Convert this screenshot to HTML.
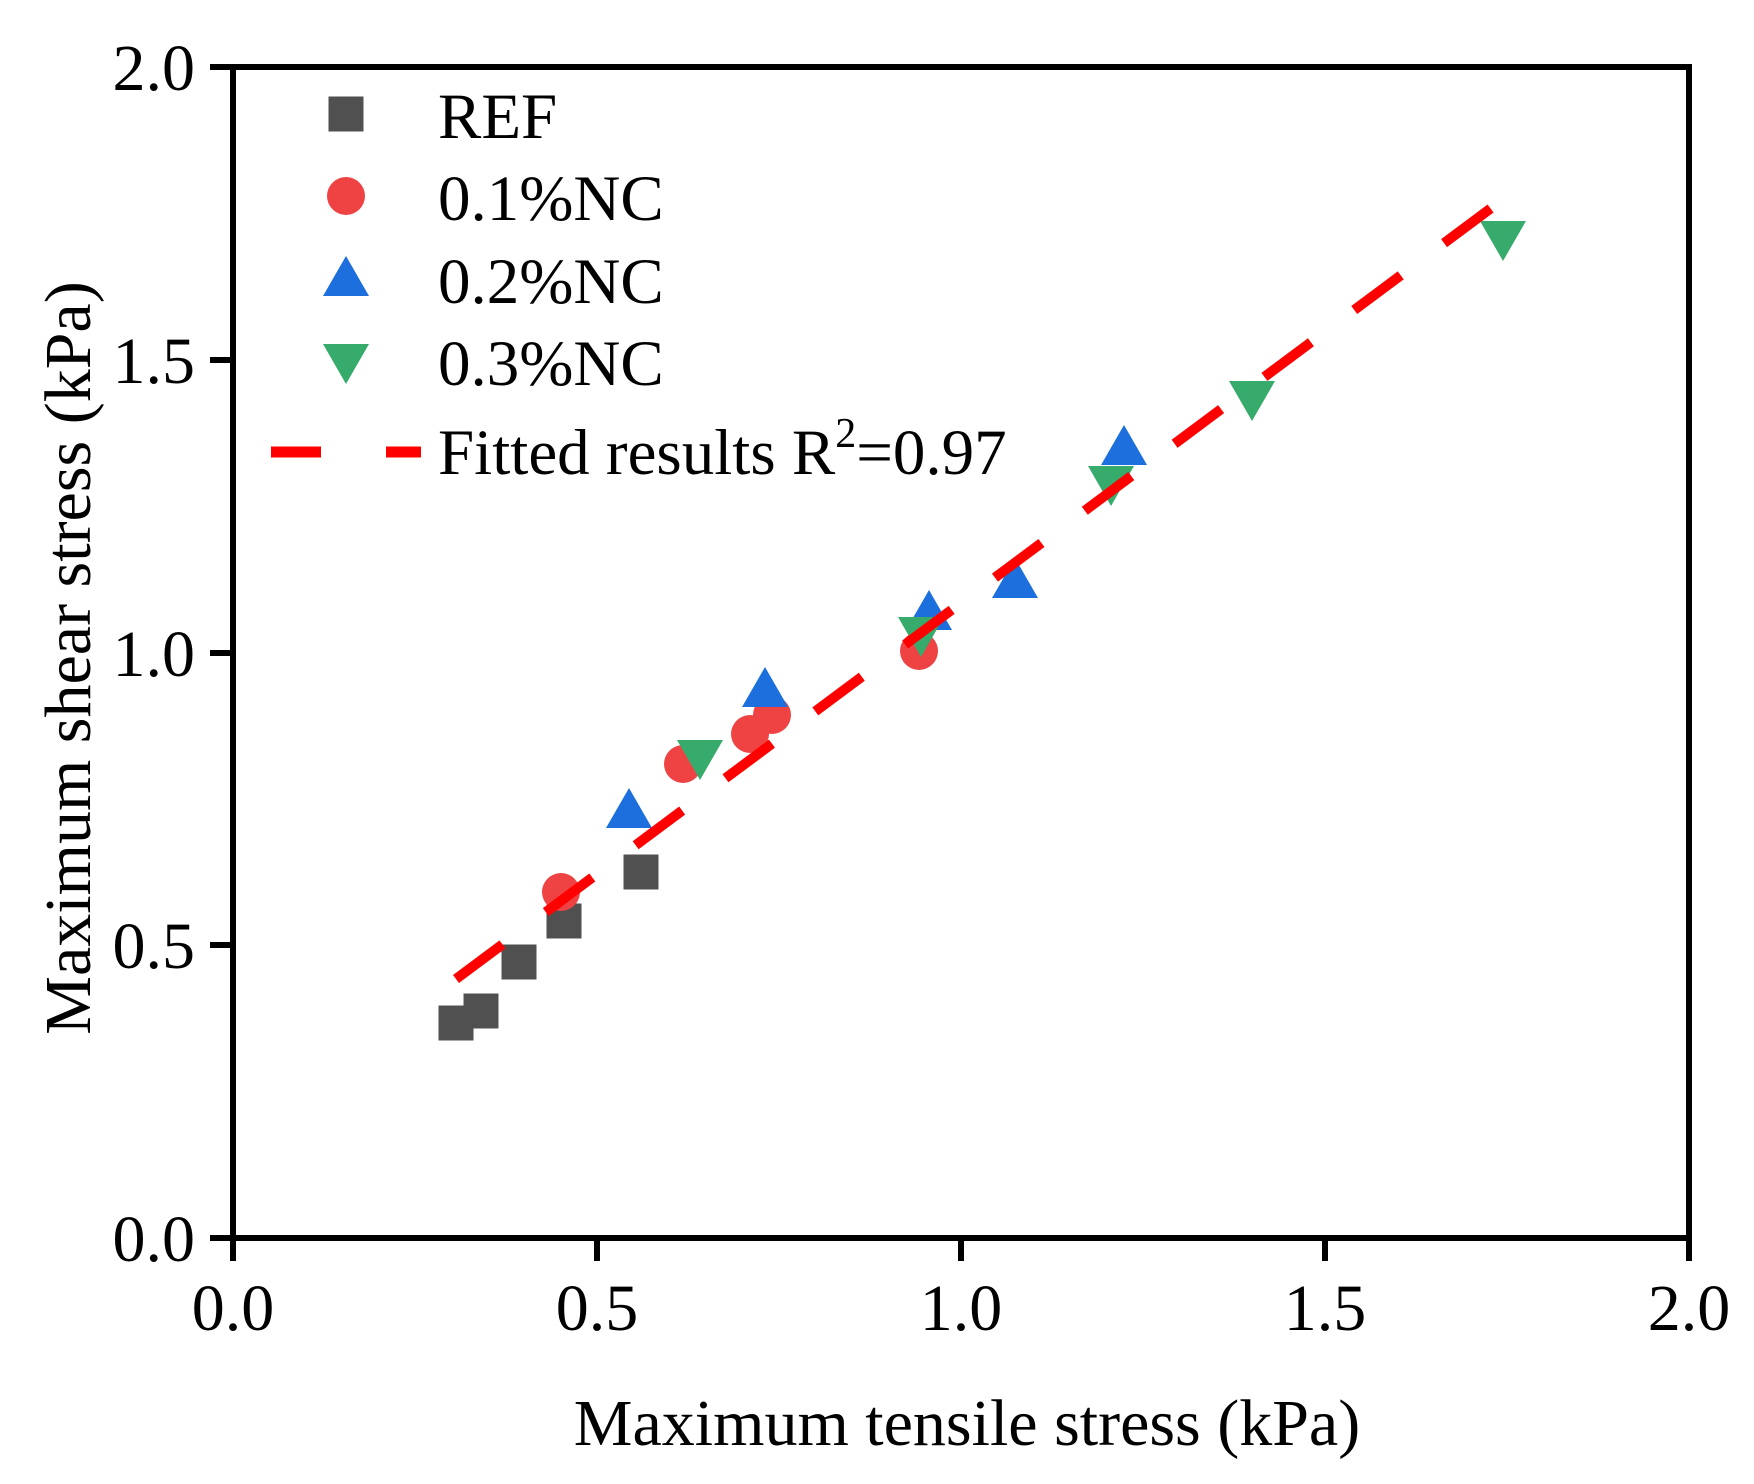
<!DOCTYPE html>
<html><head><meta charset="utf-8"><style>
html,body{margin:0;padding:0;background:#fff}
svg{display:block}
text{font-family:"Liberation Serif",serif;fill:#000}
</style></head><body>
<svg width="1754" height="1484" viewBox="0 0 1754 1484" xmlns="http://www.w3.org/2000/svg">
<defs>
<g id="sq"><rect x="-17.5" y="-17.5" width="35" height="35" fill="#505050"/></g>
<g id="ci"><circle r="19" fill="#ef4343"/></g>
<g id="tu"><polygon points="0,-22 23,18 -23,18" fill="#1c6fdc"/></g>
<g id="td"><polygon points="0,22 23,-18 -23,-18" fill="#37ab6b"/></g>
</defs>
<g>
<use href="#sq" x="456" y="1023"/>
<use href="#sq" x="481" y="1011"/>
<use href="#sq" x="519" y="962"/>
<use href="#sq" x="564" y="921"/>
<use href="#sq" x="641" y="872"/>
</g>
<g>
<use href="#ci" x="561" y="892"/>
<use href="#ci" x="683" y="764"/>
<use href="#ci" x="750" y="734"/>
<use href="#ci" x="772" y="715"/>
<use href="#ci" x="919" y="651"/>
</g>
<g>
<use href="#tu" x="629" y="810"/>
<use href="#tu" x="765" y="689"/>
<use href="#tu" x="929" y="612"/>
<use href="#tu" x="1015" y="580"/>
<use href="#tu" x="1124" y="447"/>
</g>
<g>
<use href="#td" x="700" y="758"/>
<use href="#td" x="921" y="635"/>
<use href="#td" x="1111" y="484"/>
<use href="#td" x="1252" y="399"/>
<use href="#td" x="1503" y="239"/>
</g>
<line x1="456" y1="979" x2="1510" y2="194" stroke="#ff0000" stroke-width="10" stroke-dasharray="58 54"/>
<rect x="233" y="67" width="1456" height="1171" fill="none" stroke="#000" stroke-width="6"/>
<g stroke="#000" stroke-width="6">
<line x1="233" y1="1238" x2="233" y2="1261"/>
<line x1="597" y1="1238" x2="597" y2="1261"/>
<line x1="961" y1="1238" x2="961" y2="1261"/>
<line x1="1325" y1="1238" x2="1325" y2="1261"/>
<line x1="1689" y1="1238" x2="1689" y2="1261"/>
<line x1="210" y1="67" x2="233" y2="67"/>
<line x1="210" y1="360" x2="233" y2="360"/>
<line x1="210" y1="653" x2="233" y2="653"/>
<line x1="210" y1="945" x2="233" y2="945"/>
<line x1="210" y1="1238" x2="233" y2="1238"/>
</g>
<g font-size="66" text-anchor="middle">
<text x="233" y="1330">0.0</text>
<text x="597" y="1330">0.5</text>
<text x="961" y="1330">1.0</text>
<text x="1325" y="1330">1.5</text>
<text x="1689" y="1330">2.0</text>
</g>
<g font-size="66" text-anchor="end">
<text x="195" y="90">2.0</text>
<text x="195" y="383">1.5</text>
<text x="195" y="676">1.0</text>
<text x="195" y="968">0.5</text>
<text x="195" y="1261">0.0</text>
</g>
<text x="967" y="1445" font-size="66" text-anchor="middle">Maximum tensile stress (kPa)</text>
<text transform="translate(90,658) rotate(-90)" font-size="66" text-anchor="middle">Maximum shear stress (kPa)</text>
<use href="#sq" x="346" y="114"/>
<use href="#ci" x="346" y="196"/>
<use href="#tu" x="346" y="278"/>
<use href="#td" x="346" y="362"/>
<line x1="271" y1="452" x2="321" y2="452" stroke="#ff0000" stroke-width="11"/>
<line x1="386" y1="452" x2="421" y2="452" stroke="#ff0000" stroke-width="11"/>
<g font-size="65">
<text x="438" y="138">REF</text>
<text x="438" y="220">0.1%NC</text>
<text x="438" y="303">0.2%NC</text>
<text x="438" y="385">0.3%NC</text>
<text x="438" y="474">Fitted results R<tspan font-size="42" dy="-27">2</tspan><tspan dy="27">=0.97</tspan></text>
</g>
</svg>
</body></html>
